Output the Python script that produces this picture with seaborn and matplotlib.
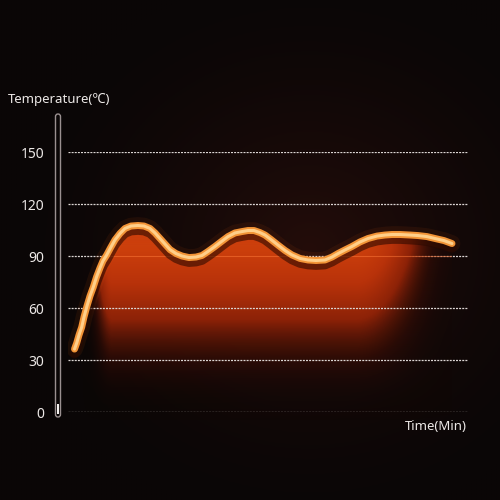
import numpy as np
import pandas as pd
import matplotlib
matplotlib.use("Agg")
import matplotlib.pyplot as plt
import matplotlib.transforms as mtransforms
from matplotlib.patches import FancyBboxPatch, Rectangle
from matplotlib.colors import LinearSegmentedColormap
import seaborn as sns

# ---- data ----
time_min = [1.63, 2.18, 2.75, 3.43, 4.0, 4.68, 5.5, 6.33, 7.13, 8.0, 8.75, 9.68,
            10.63, 11.75, 13.0, 14.25, 15.75, 17.5, 19.0, 20.5, 21.75, 23.0,
            24.25, 25.5, 27.0, 28.5, 30.25, 32.0, 33.5, 35.0, 36.75, 38.5, 40.0,
            41.75, 43.5, 45.0, 46.5, 48.0, 49.25, 50.75, 52.5, 54.25, 56.0, 58.0,
            60.0, 62.0, 64.25, 66.0, 67.5, 69.25, 71.0, 73.0, 75.0, 77.25, 79.25,
            81.0, 83.0, 85.5, 87.5, 89.75, 91.75, 94.0, 96.0]
temperature_c = [36.3, 39.8, 44.4, 49.0, 54.8, 60.6, 66.9, 72.1, 77.9, 83.1, 87.2,
                 90.6, 94.7, 99.3, 103.0, 105.9, 107.3, 107.6, 107.3, 105.9, 103.3,
                 100.1, 96.9, 93.7, 91.4, 90.0, 89.1, 89.4, 90.3, 92.6, 95.5, 98.6,
                 101.2, 103.3, 104.1, 104.7, 104.7, 103.5, 102.1, 99.5, 96.3, 93.2,
                 90.6, 88.6, 87.7, 87.4, 87.7, 89.4, 91.4, 93.5, 95.5, 98.1, 100.1,
                 101.5, 102.1, 102.4, 102.4, 102.1, 101.8, 101.2, 100.1, 98.9, 97.2]
y_ticks = [0, 30, 60, 90, 120, 150]
y_label = "Temperature(℃)"
x_label = "Time(Min)"

sns.set_theme(style="dark")
plt.rcParams["font.family"] = ["Noto Sans", "DejaVu Sans"]

fig = plt.figure(figsize=(5, 5), dpi=100, facecolor="#0a0606")

# background subtle vignette
bg = fig.add_axes([0, 0, 1, 1], zorder=0)
bg.axis("off")
yy, xx = np.mgrid[0:1:200j, 0:1:200j]
r = np.sqrt(((xx - 0.62) / 0.6) ** 2 + ((yy - 0.5) / 0.55) ** 2)
g = np.clip(1 - r, 0, 1) ** 1.5
base = np.array([10, 6, 6]) / 255
tint = np.array([36, 13, 10]) / 255
bg.imshow(base + g[..., None] * (tint - base), extent=[0, 1, 0, 1],
          origin="upper", aspect="auto")
bg.set_xlim(0, 1)
bg.set_ylim(0, 1)

ax = fig.add_axes([0.136, 0.176, 0.8, 0.52], zorder=1)
ax.set_facecolor("none")

df = pd.DataFrame({"time": time_min, "temp": temperature_c})

# dashed grid line at 90 sits behind the glow
ax.axhline(90, color="#dcd6d4", lw=0.9, ls=(0, (1.6, 0.9)), zorder=0.5)

# glowing fill under the curve
poly = ax.fill_between(df["time"], df["temp"], -6, facecolor="none",
                       edgecolor="none", clip_on=False)
path = poly.get_paths()[0]
tt, vv = np.meshgrid(np.linspace(0, 100, 400), np.linspace(-6, 115, 300))


def sstep(x):
    x = np.clip(x, 0, 1)
    return x * x * (3 - 2 * x)


h = sstep((tt - 3) / 8) * (1 - 0.9 * sstep((tt - 72) / 26))
vert = np.clip((vv + 6) / 100, 0, 1) ** 1.3
I = np.clip(h * vert, 0, 1)
cmap = LinearSegmentedColormap.from_list(
    "glow", ["#0e0605", "#3e0e05", "#8c2207", "#b8320a", "#cc3f0c"])
rgba = cmap(I)
rgba[..., 3] = np.clip(I * 2.0, 0, 1)
im = ax.imshow(rgba, extent=[0, 100, -6, 115], origin="lower", aspect="auto",
               zorder=1)
im.set_clip_path(path, ax.transData)
im.set_clip_box(fig.bbox)

# faint solid orange trace of the 90 line inside the glow
l90 = ax.axhline(90, color="#ff7a3a", lw=0.8, alpha=0.5, zorder=1.5)
l90.set_clip_path(path, ax.transData)

# dashed grid lines on top of the glow
for v in y_ticks:
    if v == 90:
        continue
    ax.axhline(v, color="#dcd6d4", lw=0.9, ls=(0, (1.6, 0.9)), zorder=2)

# curve: glow, shadow, body, core
ax.plot(df["time"], df["temp"], color="#ff6a10", lw=12, alpha=0.07,
        solid_capstyle="round", zorder=3)
shadow = ax.transData + mtransforms.ScaledTranslation(0, -0.045, fig.dpi_scale_trans)
ax.plot(df["time"], df["temp"], color="#2a0800", lw=7, alpha=0.6,
        transform=shadow, solid_capstyle="round", zorder=3)
sns.lineplot(data=df, x="time", y="temp", ax=ax, color="#f39436", lw=5.0,
             zorder=4, solid_capstyle="round", solid_joinstyle="round",
             estimator=None, sort=False)
ax.plot(df["time"], df["temp"], color="#ffcf8a", lw=2.2,
        solid_capstyle="round", solid_joinstyle="round", zorder=5)

ax.set_xlim(0, 100)
ax.set_ylim(0, 150)
ax.set_yticks(y_ticks)
ax.set_xticks([])
ax.tick_params(axis="y", length=0, pad=17, labelsize=10, labelcolor="#ece8e6")
ax.set_xlabel("")
ax.set_ylabel("")
ax.grid(False)
for s in ax.spines.values():
    s.set_visible(False)

fig.text(8 / 500, 1 - 100 / 500, y_label, ha="left", va="center",
         fontsize=9.5, color="#ece8e6")
fig.text(467 / 500, 1 - 427 / 500, x_label, ha="right", va="center",
         fontsize=9.5, color="#ece8e6")

# thermometer bar
tube = FancyBboxPatch((55.5 / 500, 1 - 417 / 500), 5 / 500, 303 / 500,
                      boxstyle="round,pad=0,rounding_size=0.005",
                      transform=fig.transFigure, facecolor="none",
                      edgecolor="#9a9090", lw=1.0, zorder=6)
fig.patches.append(tube)
fill = Rectangle((56.9 / 500, 1 - 414 / 500), 2.4 / 500, 10 / 500,
                 transform=fig.transFigure, facecolor="#f4f0ee",
                 edgecolor="none", zorder=7)
fig.patches.append(fill)

fig.savefig("out.png", dpi=100, facecolor=fig.get_facecolor())
